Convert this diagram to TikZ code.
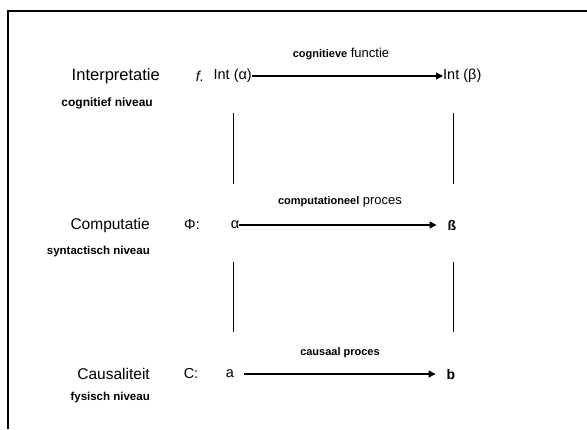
\documentclass[tikz,border=0pt]{standalone}
\usepackage{fontspec}
\setmainfont{Liberation Sans}
\usetikzlibrary{arrows.meta}
\begin{document}
\begin{tikzpicture}[x=1pt,y=-1pt,
  lvl/.style={anchor=east,inner sep=0pt,font=\fontsize{15.5}{17}\selectfont},
  sub/.style={anchor=east,inner sep=0pt,font=\fontsize{11.5}{13}\selectfont\bfseries},
  sym/.style={inner sep=0pt,font=\fontsize{14.5}{17}\selectfont},
  proc/.style={inner sep=0pt,font=\fontsize{13}{15}\selectfont},
  arr/.style={line width=1.4pt,-{Triangle[length=7pt,width=7pt]}},
  vline/.style={line width=1pt}]
\useasboundingbox (0,0) rectangle (587,429);
\fill[white] (0,0) rectangle (587,429);
% frame
\draw[line width=1.2pt] (8,429) -- (8,11) -- (587,11);

% top row
\node[lvl,font=\fontsize{16.5}{18}\selectfont] (interp) at (160,76) {Interpretatie};
\node[sub,font=\fontsize{12}{13}\selectfont\bfseries] (cogn) at (153,103) {cognitief niveau};
\node[sym] (f) at (200,76) {\itshape f.};
\node[sym,anchor=east] (ia) at (252,76) {Int (α)};
\node[sym,anchor=west] (ib) at (443,76) {Int (β)};
\node[proc] (cf) at (341,54) {{\fontsize{11}{13}\selectfont\bfseries cognitieve} functie};
\draw[arr] (ia.east) -- (ib.west);

% vertical lines upper
\coordinate (l1t) at (233,113); \coordinate (l1b) at (233,184);
\coordinate (r1t) at (453,113); \coordinate (r1b) at (453,184);
\draw[vline] (l1t) -- (l1b);
\draw[vline] (r1t) -- (r1b);

% middle row
\node[lvl] (comp) at (150,225) {Computatie};
\node[sub] (synt) at (150,252) {syntactisch niveau};
\node[sym] (phi) at (192,225) {Φ:};
\node[sym] (al) at (235,225) {α};
\node[sym,font=\fontsize{14}{17}\selectfont\bfseries] (be) at (452,225) {ß};
\node[proc] (cp) at (340,202) {{\fontsize{11}{13}\selectfont\bfseries computationeel} proces};
\draw[arr,shorten >=11pt] (al.east) -- (be.west);

% vertical lines lower
\coordinate (l2t) at (233,262); \coordinate (l2b) at (233,332);
\coordinate (r2t) at (453,262); \coordinate (r2b) at (453,332);
\draw[vline] (l2t) -- (l2b);
\draw[vline] (r2t) -- (r2b);

% bottom row
\node[lvl] (caus) at (150,374) {Causaliteit};
\node[sub] (fys) at (150,398) {fysisch niveau};
\node[sym] (c) at (191,374) {C:};
\node[sym] (a) at (230,374) {a};
\node[sym,font=\fontsize{14}{17}\selectfont\bfseries] (b) at (451,374) {b};
\node[proc,font=\fontsize{11}{13}\selectfont\bfseries] (cpr) at (340,353) {causaal proces};
\draw[arr,line width=1.2pt,shorten <=10pt,shorten >=11pt] (a.east) -- (b.west);
\end{tikzpicture}
\end{document}
